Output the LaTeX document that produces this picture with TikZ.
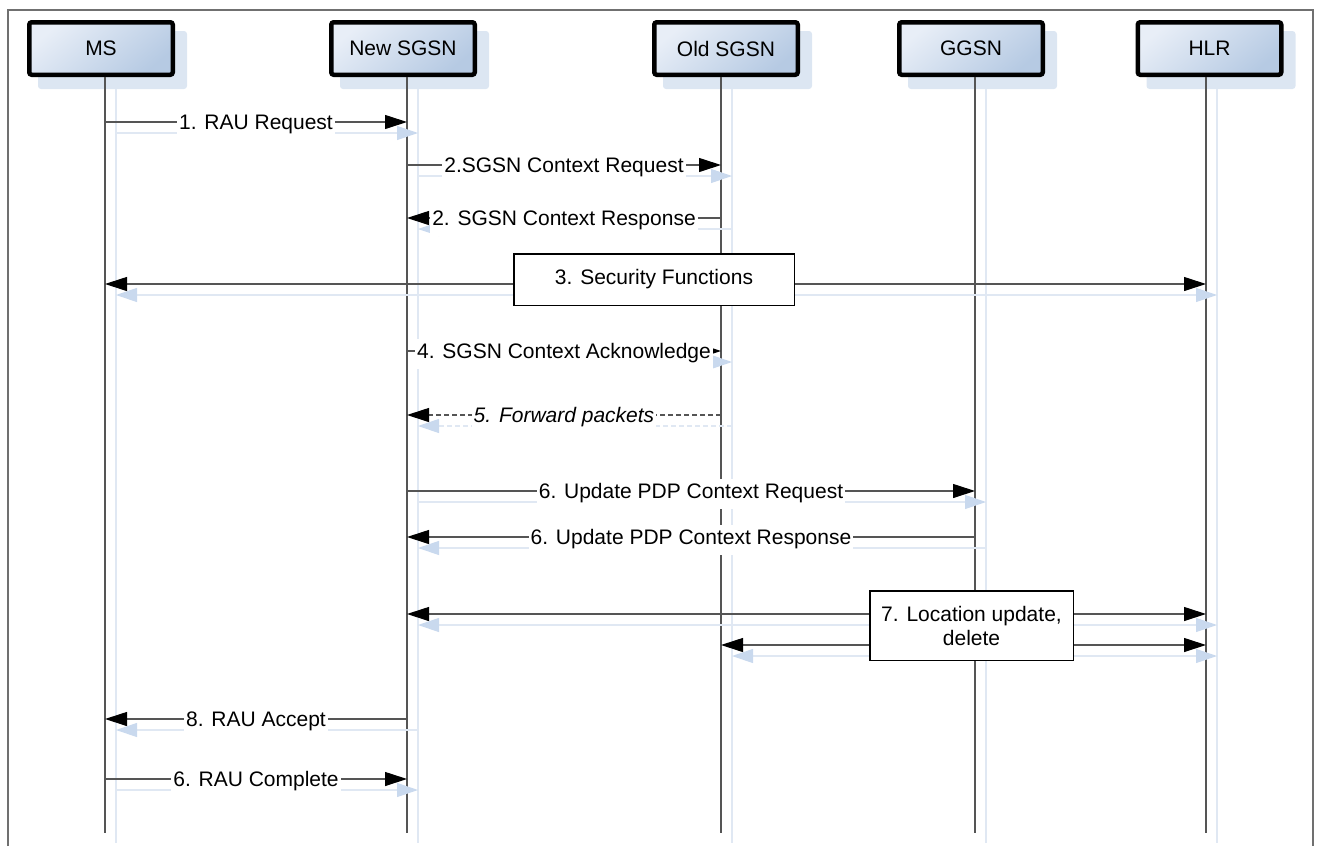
\documentclass[tikz,border=0pt]{standalone}
\usepackage{fontspec}
\setmainfont{Liberation Sans}
\usetikzlibrary{arrows.meta,calc}

\definecolor{boxtop}{HTML}{E8EEF7}
\definecolor{boxbot}{HTML}{B6CAE3}
\definecolor{shadowbox}{HTML}{DCE6F2}
\definecolor{shadowwire}{HTML}{E0E8F3}
\definecolor{shadowtip}{HTML}{C9D9EE}
\definecolor{wire}{HTML}{555555}
\definecolor{framegray}{HTML}{707070}

% one message: name, x from, x to, y, extra style, label
\newcommand\seqmsg[6]{%
  \coordinate (#1-s) at (#2,#4);
  \coordinate (#1-t) at (#3,#4);
  \draw[shadowmsg,#5] ([shift={(11,11)}]#1-s) -- ([shift={(11,11)}]#1-t);
  \draw[mainmsg,#5] (#1-s) -- (#1-t);
  \node[lbl] (#1-l) at ($(#1-s)!0.5!(#1-t)$) {#6};
}

\begin{document}
\begin{tikzpicture}[x=1pt,y=-1pt,
  font=\fontsize{21}{24}\selectfont,
  actor/.style={draw=black, line width=4.5pt, rounded corners=2.5pt,
    top color=boxtop, bottom color=boxbot, shading angle=40,
    minimum width=143.5pt, minimum height=52.5pt, inner sep=0pt},
  actshadow/.style={fill=shadowbox, rounded corners=3pt,
    minimum width=149pt, minimum height=58pt, inner sep=0pt},
  lifeline/.style={draw=wire, line width=1.1pt},
  shadowlife/.style={draw=shadowwire, line width=1.1pt},
  mainmsg/.style={draw=wire, line width=1.1pt,
    -{Triangle[length=22pt,width=14pt,color=black]}},
  shadowmsg/.style={draw=shadowwire, line width=1.1pt,
    -{Triangle[length=21pt,width=14pt,color=shadowtip]}},
  dashmsg/.style={dash pattern=on 5pt off 3pt},
  lbl/.style={fill=white, inner xsep=2pt, inner ysep=0pt,
    text height=15pt, text depth=4.5pt, minimum height=30pt, yshift=-2.5pt},
  notebox/.style={draw=black, fill=white, line width=1.5pt, inner sep=0pt, align=center},
]
\useasboundingbox (0,0) rectangle (1317,846);

% outer frame
\draw[framegray, line width=1.5pt] (8,846) -- (8,10) -- (1313,10) -- (1313,846);

% actor shadows
\node[actshadow] (ms-sh)   at (112.5,60) {};
\node[actshadow] (new-sh)  at (414.5,60) {};
\node[actshadow] (old-sh)  at (737.5,60) {};
\node[actshadow] (ggsn-sh) at (982.5,60) {};
\node[actshadow] (hlr-sh)  at (1221,60) {};

% lifeline ends
\coordinate (msE)   at (105,833);
\coordinate (newE)  at (407,833);
\coordinate (oldE)  at (721,833);
\coordinate (ggsnE) at (975,833);
\coordinate (hlrE)  at (1206,833);
\coordinate (msS)   at (116,843);
\coordinate (newS)  at (418,843);
\coordinate (oldS)  at (732,843);
\coordinate (ggsnS) at (986,843);
\coordinate (hlrS)  at (1217,843);

% lifeline shadows
\draw[shadowlife] (ms-sh.south -| msS) -- (msS);
\draw[shadowlife] (new-sh.south -| newS) -- (newS);
\draw[shadowlife] (old-sh.south -| oldS) -- (oldS);
\draw[shadowlife] (ggsn-sh.south -| ggsnS) -- (ggsnS);
\draw[shadowlife] (hlr-sh.south -| hlrS) -- (hlrS);

% actors
\node[actor] (ms)   at (101,48.5)   {MS};
\node[actor] (new)  at (403,48.5)   {New SGSN};
\node[actor] (old)  at (726,48.5)   {Old SGSN};
\node[actor] (ggsn) at (971,48.5)   {GGSN};
\node[actor] (hlr)  at (1209.5,48.5) {HLR};

% lifelines
\draw[lifeline] (ms.south -| msE) -- (msE);
\draw[lifeline] (new.south -| newE) -- (newE);
\draw[lifeline] (old.south -| oldE) -- (oldE);
\draw[lifeline] (ggsn.south -| ggsnE) -- (ggsnE);
\draw[lifeline] (hlr.south -| hlrE) -- (hlrE);

% simple messages
\seqmsg{m1}{105}{407}{122}{}{1. RAU Request}
\seqmsg{m2}{407}{721}{165}{}{2.SGSN Context Request}
\seqmsg{m3}{721}{407}{218}{}{2. SGSN Context Response}
\seqmsg{m4}{407}{721}{351}{}{4. SGSN Context Acknowledge}
\seqmsg{m5}{721}{407}{415}{dashmsg}{\itshape 5. Forward packets}
\seqmsg{m6}{407}{975}{491}{}{6. Update PDP Context Request}
\seqmsg{m7}{975}{407}{537}{}{6. Update PDP Context Response}
\seqmsg{m8}{407}{105}{719}{}{8. RAU Accept}
\seqmsg{m9}{105}{407}{779}{}{6. RAU Complete}

% 3. security functions
\coordinate (sec-c) at (654,284);
\coordinate (sec-ms) at (105,284);
\coordinate (sec-hlr) at (1206,284);
\draw[shadowmsg] ([shift={(11,11)}]sec-c) -- ([shift={(11,11)}]sec-ms);
\draw[shadowmsg] ([shift={(11,11)}]sec-c) -- ([shift={(11,11)}]sec-hlr);
\draw[mainmsg] (sec-c) -- (sec-ms);
\draw[mainmsg] (sec-c) -- (sec-hlr);
\node[notebox, minimum width=280.5pt, minimum height=51.5pt] (sec) at (654,279.5)
  {3. Security Functions};

% 7. location update, delete
\coordinate (loc-a) at (971.5,614);
\coordinate (loc-b) at (971.5,645);
\coordinate (loc-new) at (407,614);
\coordinate (loc-hlr1) at (1206,614);
\coordinate (loc-old) at (721,645);
\coordinate (loc-hlr2) at (1206,645);
\draw[shadowmsg] ([shift={(11,11)}]loc-a) -- ([shift={(11,11)}]loc-new);
\draw[shadowmsg] ([shift={(11,11)}]loc-a) -- ([shift={(11,11)}]loc-hlr1);
\draw[shadowmsg] ([shift={(11,11)}]loc-b) -- ([shift={(11,11)}]loc-old);
\draw[shadowmsg] ([shift={(11,11)}]loc-b) -- ([shift={(11,11)}]loc-hlr2);
\draw[mainmsg] (loc-a) -- (loc-new);
\draw[mainmsg] (loc-a) -- (loc-hlr1);
\draw[mainmsg] (loc-b) -- (loc-old);
\draw[mainmsg] (loc-b) -- (loc-hlr2);
\node[notebox, minimum width=203.5pt, minimum height=69.5pt] (loc) at (971.5,625.5)
  {7. Location update,\\delete};
\end{tikzpicture}
\end{document}
